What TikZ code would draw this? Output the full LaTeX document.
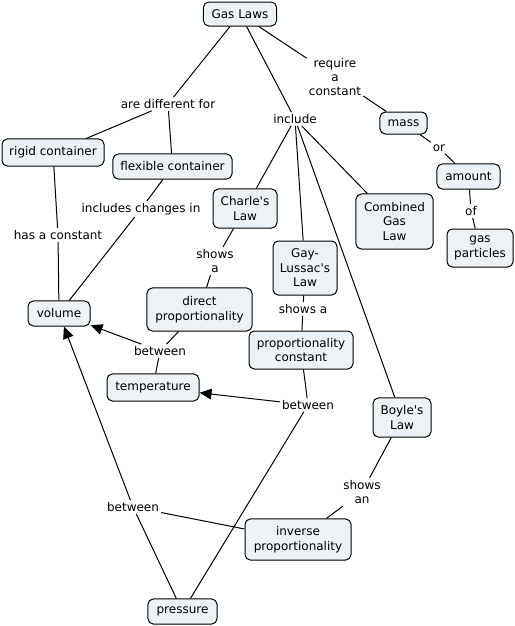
\documentclass[tikz,border=0pt]{standalone}
\usepackage{fontspec}
\newfontfamily\cmapfont{DejaVu Sans}
\usetikzlibrary{arrows.meta}
\definecolor{conceptfill}{RGB}{236,242,245}

\begin{document}
\begin{tikzpicture}[x=0.75pt, y=-0.75pt, >={Triangle[length=9pt,width=8pt]},
    every node/.style={font=\cmapfont\fontsize{9}{10.8}\selectfont, align=center},
    concept/.style={draw, rounded corners=4pt, fill=conceptfill, line width=0.75pt, inner sep=2pt},
    linkword/.style={inner sep=1.5pt},
    link/.style={line width=0.75pt},
    arrowlink/.style={link, ->}]
    \useasboundingbox (0,0) rectangle (515,626);

    % concepts
    \node[concept, minimum width=54.8pt, minimum height=18pt] (gaslaws) at (240,14) {Gas Laws};
    \node[concept, minimum width=76.5pt, minimum height=20.3pt] (rigid) at (53,152.5) {rigid container};
    \node[concept, minimum width=89.3pt, minimum height=18.8pt] (flexible) at (172.5,166.5) {flexible container};
    \node[concept, minimum width=48pt, minimum height=29.3pt] (charles) at (245,208.5) {Charle's\\Law};
    \node[concept, minimum width=48pt, minimum height=40.5pt] (gaylussac) at (305,268) {Gay-\\Lussac's\\Law};
    \node[concept, minimum width=57.8pt, minimum height=41.3pt] (combined) at (394.5,221.5) {Combined\\Gas\\Law};
    \node[concept, minimum width=35.3pt, minimum height=16.5pt] (mass) at (403.5,123) {mass};
    \node[concept, minimum width=47.3pt, minimum height=18.8pt] (amount) at (468.5,176.5) {amount};
    \node[concept, minimum width=49.5pt, minimum height=28.5pt] (particles) at (480,248) {gas\\particles};
    \node[concept, minimum width=46.5pt, minimum height=18.8pt] (volume) at (59,313.5) {volume};
    \node[concept, minimum width=78.8pt, minimum height=32.3pt] (direct) at (199.5,309.5) {direct\\proportionality};
    \node[concept, minimum width=78pt, minimum height=28.5pt] (propconst) at (301,350) {proportionality\\constant};
    \node[concept, minimum width=69pt, minimum height=20.3pt] (temperature) at (153,387.5) {temperature};
    \node[concept, minimum width=43.5pt, minimum height=29.3pt] (boyle) at (402,417.5) {Boyle's\\Law};
    \node[concept, minimum width=79.5pt, minimum height=30.8pt] (inverse) at (298,539.5) {inverse\\proportionality};
    \node[concept, minimum width=51.8pt, minimum height=18.8pt] (pressure) at (182.5,611.5) {pressure};

    % linking words
    \node[linkword] (difffor) at (168,104) {are different for};
    \node[linkword] (require) at (335,77) {require\\a\\constant};
    \node[linkword] (include) at (295,119) {include};
    \node[linkword] (orword) at (439,148) {or};
    \node[linkword] (ofword) at (471,211) {of};
    \node[linkword] (hasconst) at (58,235) {has a constant};
    \node[linkword] (changes) at (141,209) {includes changes in};
    \node[linkword] (showscharles) at (215,261) {shows\\a};
    \node[linkword] (betweenvt) at (160,351) {between};
    \node[linkword] (showsgay) at (303,309) {shows a};
    \node[linkword] (betweentp) at (308,405) {between};
    \node[linkword] (betweenvp) at (133,507) {between};
    \node[linkword] (showsboyle) at (362,492) {shows\\an};

    % connections
    \draw[link] (gaslaws) -- (difffor);
    \draw[link] (difffor) -- (rigid);
    \draw[link] (difffor) -- (flexible);
    \draw[link] (gaslaws) -- (require);
    \draw[link] (require) -- (mass);
    \draw[link] (mass) -- (orword);
    \draw[link] (orword) -- (amount);
    \draw[link] (amount) -- (ofword);
    \draw[link] (ofword) -- (particles);
    \draw[link] (gaslaws) -- (include);
    \draw[link] (include) -- (charles);
    \draw[link] (include) -- (gaylussac);
    \draw[link] (include) -- (combined);
    \draw[link] (include) -- (boyle);
    \draw[link] (rigid) -- (hasconst);
    \draw[link] (hasconst) -- (volume);
    \draw[link] (flexible) -- (changes);
    \draw[link] (changes) -- (volume);
    \draw[link] (charles) -- (showscharles);
    \draw[link] (showscharles) -- (direct);
    \draw[link] (direct) -- (betweenvt);
    \draw[arrowlink] (betweenvt) -- (volume);
    \draw[link] (betweenvt) -- (temperature);
    \draw[link] (gaylussac) -- (showsgay);
    \draw[link] (showsgay) -- (propconst);
    \draw[link] (propconst) -- (betweentp);
    \draw[arrowlink] (betweentp) -- (temperature);
    \draw[link] (betweentp) -- (pressure);
    \draw[link] (boyle) -- (showsboyle);
    \draw[link] (showsboyle) -- (inverse);
    \draw[link] (inverse) -- (betweenvp);
    \draw[arrowlink] (betweenvp) -- (volume);
    \draw[link] (betweenvp) -- (pressure);
\end{tikzpicture}
\end{document}
